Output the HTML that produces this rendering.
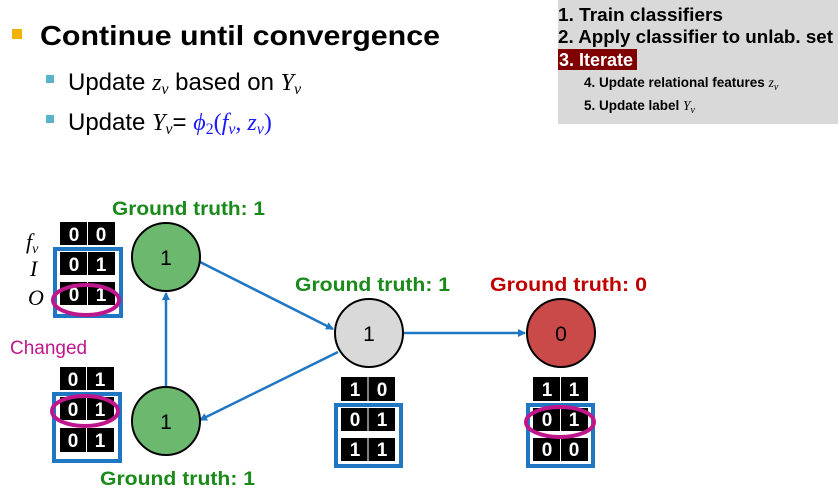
<!DOCTYPE html>
<html><head><meta charset="utf-8"><style>
html,body{margin:0;padding:0;background:#fff}
svg{display:block}
text{font-family:"Liberation Sans",sans-serif}
.m{font-family:"Liberation Serif",serif;font-style:italic}
.g{fill:#fff;font-weight:bold;font-size:19px;text-anchor:middle}
.gt{font-weight:bold;font-size:19px}
</style></head><body>
<svg width="838" height="504" viewBox="0 0 838 504" xmlns="http://www.w3.org/2000/svg">
<defs><marker id="a" markerWidth="8" markerHeight="8" refX="7" refY="4" orient="auto" markerUnits="userSpaceOnUse"><path d="M0,0 L8,4 L0,8 z" fill="#1f77c4"/></marker></defs>
<!-- header -->
<rect x="12" y="29" width="10" height="10" fill="#f0b400"/>
<text x="40" y="45" font-size="28" font-weight="bold" textLength="400" lengthAdjust="spacingAndGlyphs">Continue until convergence</text>
<rect x="46" y="75" width="8" height="8" fill="#5ab4c8"/>
<text x="68" y="90" font-size="24">Update <tspan class="m">z<tspan font-size="16" dy="4">v</tspan></tspan><tspan dy="-4"> based on </tspan><tspan class="m">Y<tspan font-size="16" dy="4">v</tspan></tspan></text>
<rect x="46" y="115" width="8" height="8" fill="#5ab4c8"/>
<text x="68" y="130" font-size="24">Update <tspan class="m">Y<tspan font-size="16" dy="4">v</tspan></tspan><tspan dy="-4">= </tspan><tspan class="m" fill="#1a1aff">ϕ<tspan font-size="16" dy="4" font-style="normal">2</tspan><tspan dy="-4" font-style="normal">(</tspan>f<tspan font-size="16" dy="4">v</tspan><tspan dy="-4">, z</tspan><tspan font-size="16" dy="4">v</tspan><tspan dy="-4" font-style="normal">)</tspan></tspan></text>
<!-- gray box -->
<rect x="558" y="0" width="280" height="124" fill="#d9d9d9"/>
<text x="558" y="21" font-size="18" font-weight="bold" textLength="165" lengthAdjust="spacingAndGlyphs">1. Train classifiers</text>
<text x="558" y="43" font-size="18" font-weight="bold" textLength="275" lengthAdjust="spacingAndGlyphs">2. Apply classifier to unlab. set</text>
<rect x="558" y="49" width="79" height="21" fill="#800000"/>
<text x="559" y="66" font-size="18" font-weight="bold" fill="#fff" textLength="74" lengthAdjust="spacingAndGlyphs">3. Iterate</text>
<text x="584" y="87" font-size="13.5" font-weight="bold">4. Update relational features <tspan class="m" font-weight="normal">z<tspan font-size="10" dy="3">v</tspan></tspan></text>
<text x="584" y="110" font-size="13.5" font-weight="bold">5. Update label <tspan class="m" font-weight="normal">Y<tspan font-size="10" dy="3">v</tspan></tspan></text>
<!-- edges -->
<g stroke="#1f77c4" stroke-width="2.5" fill="none">
<line x1="166" y1="387" x2="166" y2="293" marker-end="url(#a)"/>
<line x1="200" y1="262" x2="333" y2="329" marker-end="url(#a)"/>
<line x1="338" y1="352" x2="200" y2="420" marker-end="url(#a)"/>
<line x1="403" y1="333" x2="525" y2="333" marker-end="url(#a)"/>
</g>
<!-- nodes -->
<g stroke="#000" stroke-width="2">
<circle cx="166" cy="257" r="34" fill="#6cb86f"/>
<circle cx="166" cy="421" r="34" fill="#6cb86f"/>
<circle cx="369" cy="333" r="34" fill="#d9d9d9"/>
<circle cx="561" cy="333" r="34" fill="#c94a48"/>
</g>
<g font-size="21" text-anchor="middle">
<text x="166" y="265">1</text><text x="166" y="429">1</text><text x="369" y="341">1</text><text x="561" y="341">0</text>
</g>
<text class="gt" x="112" y="215" fill="#1a8a1a" textLength="153" lengthAdjust="spacingAndGlyphs">Ground truth: 1</text>
<text class="gt" x="100" y="485" fill="#1a8a1a" textLength="155" lengthAdjust="spacingAndGlyphs">Ground truth: 1</text>
<text class="gt" x="295" y="291" fill="#1a8a1a" textLength="155" lengthAdjust="spacingAndGlyphs">Ground truth: 1</text>
<text class="gt" x="490" y="291" fill="#c00000" textLength="157" lengthAdjust="spacingAndGlyphs">Ground truth: 0</text>
<text x="10" y="354" font-size="19" fill="#c0168c">Changed</text>
<!-- labels -->
<text class="m" x="26" y="249" font-size="22">f<tspan font-size="14" dy="4">v</tspan></text>
<text class="m" x="30" y="276" font-size="22">I</text>
<text class="m" x="28" y="305" font-size="22">O</text>
<!-- grid TL -->
<g>
<rect x="60" y="222" width="55" height="23" fill="#000"/><rect x="60" y="252" width="55" height="23" fill="#000"/><rect x="60" y="282" width="55" height="23" fill="#000"/>
<line x1="87.5" y1="222" x2="87.5" y2="305" stroke="#fff"/>
<rect x="55" y="249" width="66" height="67" fill="none" stroke="#1f77c4" stroke-width="4"/>
<text class="g" x="74" y="241">0</text><text class="g" x="101" y="241">0</text>
<text class="g" x="74" y="271">0</text><text class="g" x="101" y="271">1</text>
<text class="g" x="74" y="301">0</text><text class="g" x="101" y="301">1</text>
<ellipse cx="86" cy="300" rx="33" ry="15" fill="none" stroke="#c0168c" stroke-width="4"/>
</g>
<!-- grid BL -->
<g>
<rect x="60" y="367" width="54" height="23" fill="#000"/><rect x="60" y="397" width="54" height="23" fill="#000"/><rect x="60" y="428" width="54" height="24" fill="#000"/>
<line x1="86.5" y1="367" x2="86.5" y2="452" stroke="#fff"/>
<rect x="54" y="394" width="66" height="67" fill="none" stroke="#1f77c4" stroke-width="4"/>
<text class="g" x="73" y="386">0</text><text class="g" x="100" y="386">1</text>
<text class="g" x="73" y="416">0</text><text class="g" x="100" y="416">1</text>
<text class="g" x="73" y="447">0</text><text class="g" x="100" y="447">1</text>
<ellipse cx="85" cy="411" rx="33" ry="15" fill="none" stroke="#c0168c" stroke-width="4"/>
</g>
<!-- grid mid -->
<g>
<rect x="341" y="377" width="54" height="24" fill="#000"/><rect x="341" y="408" width="54" height="23" fill="#000"/><rect x="341" y="438" width="54" height="23" fill="#000"/>
<line x1="368" y1="377" x2="368" y2="461" stroke="#fff"/>
<rect x="336" y="405" width="65" height="61" fill="none" stroke="#1f77c4" stroke-width="4"/>
<text class="g" x="355" y="396">1</text><text class="g" x="382" y="396">0</text>
<text class="g" x="355" y="426">0</text><text class="g" x="382" y="426">1</text>
<text class="g" x="355" y="456">1</text><text class="g" x="382" y="456">1</text>
</g>
<!-- grid right -->
<g>
<rect x="533" y="377" width="55" height="24" fill="#000"/><rect x="533" y="408" width="55" height="23" fill="#000"/><rect x="533" y="438" width="55" height="23" fill="#000"/>
<line x1="560.5" y1="377" x2="560.5" y2="461" stroke="#fff"/>
<rect x="528" y="405" width="65" height="61" fill="none" stroke="#1f77c4" stroke-width="4"/>
<text class="g" x="547" y="396">1</text><text class="g" x="574" y="396">1</text>
<text class="g" x="547" y="426">0</text><text class="g" x="574" y="426">1</text>
<text class="g" x="547" y="456">0</text><text class="g" x="574" y="456">0</text>
<ellipse cx="560" cy="422" rx="34" ry="15" fill="none" stroke="#c0168c" stroke-width="4"/>
</g>
</svg>
</body></html>
